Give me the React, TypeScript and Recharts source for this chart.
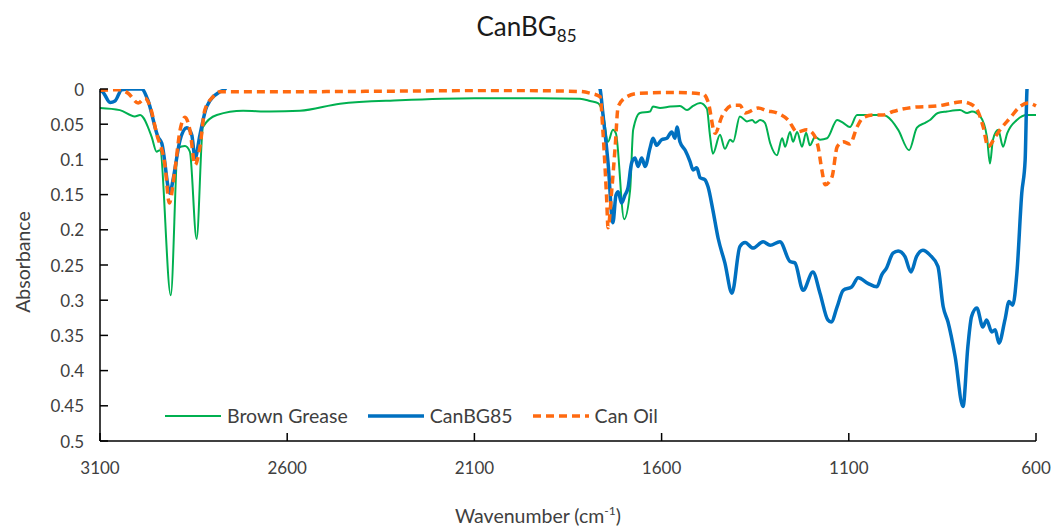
import { LineChart, Line, XAxis, YAxis, Legend } from 'recharts'

// FTIR absorbance spectra, [wavenumber cm-1, absorbance]
const brownGrease: [number, number][] = [
  [3100, 0.027], [3047, 0.03], [3007, 0.039], [2993, 0.037], [2962, 0.068], [2949, 0.089],
  [2940, 0.087], [2911, 0.293], [2892, 0.084], [2873, 0.081], [2860, 0.089], [2842, 0.213],
  [2825, 0.054], [2788, 0.037], [2718, 0.031], [2646, 0.032], [2566, 0.031], [2459, 0.021],
  [2299, 0.016], [2100, 0.013], [1925, 0.013], [1818, 0.014], [1791, 0.017], [1770, 0.02],
  [1757, 0.034], [1743, 0.075], [1730, 0.058], [1722, 0.063], [1700, 0.185], [1684, 0.143],
  [1676, 0.058], [1658, 0.034], [1631, 0.032], [1623, 0.025], [1604, 0.027], [1577, 0.025],
  [1551, 0.024], [1532, 0.03], [1516, 0.024], [1497, 0.02], [1479, 0.028], [1471, 0.065],
  [1463, 0.092], [1444, 0.065], [1431, 0.085], [1417, 0.072], [1409, 0.075], [1391, 0.039],
  [1372, 0.046], [1358, 0.044], [1350, 0.048], [1337, 0.044], [1324, 0.048], [1310, 0.077],
  [1292, 0.094], [1278, 0.07], [1270, 0.082], [1257, 0.061], [1249, 0.075], [1238, 0.061],
  [1225, 0.082], [1214, 0.062], [1204, 0.08], [1190, 0.068], [1177, 0.072], [1158, 0.07],
  [1131, 0.044], [1115, 0.048], [1097, 0.054], [1078, 0.037], [1009, 0.037], [998, 0.039],
  [968, 0.058], [939, 0.087], [918, 0.055], [896, 0.048], [883, 0.044], [862, 0.034],
  [838, 0.032], [803, 0.03], [784, 0.034], [771, 0.032], [749, 0.039], [731, 0.068],
  [723, 0.106], [715, 0.072], [701, 0.058], [688, 0.082], [677, 0.063], [651, 0.044],
  [624, 0.037], [600, 0.037],
]

const canBG85: [number, number][] = [
  [3100, 0.002], [3093, 0.004], [3073, 0.019], [3060, 0.017], [3042, 0.001], [3020, 0],
  [2989, 0], [2972, 0.016], [2945, 0.068], [2935, 0.077], [2913, 0.148], [2905, 0.129],
  [2886, 0.072], [2868, 0.055], [2855, 0.065], [2846, 0.098], [2833, 0.065], [2815, 0.025],
  [2780, 0.004], [2766, 0], [2750, -0.02], [1780, -0.02], [1764, 0.001], [1757, 0.034],
  [1743, 0.105], [1730, 0.19], [1722, 0.151], [1716, 0.146], [1707, 0.162], [1698, 0.151],
  [1690, 0.141], [1680, 0.105], [1671, 0.098], [1663, 0.11], [1653, 0.098], [1644, 0.11],
  [1631, 0.084], [1623, 0.07], [1613, 0.08], [1600, 0.072], [1586, 0.07], [1573, 0.061],
  [1564, 0.07], [1559, 0.054], [1551, 0.075], [1537, 0.087], [1524, 0.103], [1516, 0.115],
  [1506, 0.112], [1497, 0.126], [1484, 0.129], [1476, 0.139], [1463, 0.172], [1449, 0.212],
  [1431, 0.247], [1412, 0.29], [1391, 0.224], [1377, 0.218], [1356, 0.226], [1329, 0.217],
  [1310, 0.222], [1284, 0.217], [1257, 0.245], [1244, 0.247], [1222, 0.286], [1196, 0.26],
  [1177, 0.29], [1156, 0.328], [1147, 0.331], [1131, 0.309], [1115, 0.286], [1092, 0.281],
  [1075, 0.268], [1049, 0.276], [1025, 0.281], [1012, 0.264], [999, 0.254], [982, 0.233],
  [968, 0.23], [950, 0.238], [934, 0.26], [919, 0.238], [902, 0.229], [883, 0.236],
  [862, 0.252], [848, 0.309], [835, 0.331], [816, 0.38], [795, 0.451], [782, 0.366],
  [772, 0.323], [758, 0.311], [742, 0.338], [732, 0.328], [718, 0.345], [709, 0.342],
  [699, 0.361], [683, 0.328], [672, 0.302], [662, 0.307], [651, 0.261], [638, 0.148],
  [629, 0.101], [624, 0], [615, -0.03], [600, -0.04],
]

const canOil: [number, number][] = [
  [3100, 0.002], [3047, 0.001], [3025, 0.006], [2998, 0.02], [2980, 0.013], [2966, 0.025],
  [2949, 0.063], [2926, 0.11], [2915, 0.162], [2900, 0.115], [2886, 0.058], [2873, 0.04],
  [2860, 0.058], [2846, 0.108], [2833, 0.082], [2820, 0.03], [2798, 0.011], [2780, 0.004],
  [2753, 0.004], [2646, 0.004], [2299, 0.003], [2032, 0.002], [1818, 0.0035], [1791, 0.006],
  [1764, 0.011], [1757, 0.058], [1747, 0.153], [1743, 0.197], [1733, 0.143], [1724, 0.082],
  [1716, 0.025], [1693, 0.011], [1658, 0.006], [1569, 0.005], [1489, 0.007], [1476, 0.018],
  [1457, 0.063], [1439, 0.039], [1409, 0.023], [1391, 0.023], [1377, 0.034], [1342, 0.027],
  [1318, 0.031], [1292, 0.034], [1262, 0.044], [1238, 0.061], [1212, 0.058], [1196, 0.063],
  [1182, 0.082], [1172, 0.115], [1163, 0.136], [1145, 0.125], [1131, 0.082], [1115, 0.075],
  [1097, 0.078], [1078, 0.054], [1062, 0.041], [1035, 0.037], [1009, 0.037], [982, 0.032],
  [928, 0.026], [862, 0.024], [822, 0.02], [798, 0.018], [776, 0.021], [755, 0.032],
  [741, 0.054], [728, 0.082], [709, 0.068], [696, 0.058], [669, 0.041], [643, 0.025],
  [621, 0.02], [600, 0.024],
]

const xTicks = [3100, 2600, 2100, 1600, 1100, 600]
const yTicks = [0, 0.05, 0.1, 0.15, 0.2, 0.25, 0.3, 0.35, 0.4, 0.45, 0.5]

const toPoints = (rows: [number, number][]) => rows.map(([wn, abs]) => ({ wn, abs }))

const GREEN = '#00B050'
const BLUE = '#0070C0'
const ORANGE = '#FF6A10'
const FONT = 'Lato, "Open Sans", sans-serif'
const TEXT = '#404040'

const Y_MARGIN = 16
const X_MARGIN = 18

const YTick = ({ x, y, payload }: any) => (
  <g>
    <line x1={x + Y_MARGIN} x2={x + Y_MARGIN + 8} y1={y} y2={y} stroke="#000" strokeWidth={1.5} />
    <text x={x} y={y} textAnchor="end" dominantBaseline="central" fill={TEXT} fontSize={17} fontFamily={FONT}>
      {payload.value}
    </text>
  </g>
)

const XTick = ({ x, y, payload }: any) => (
  <g>
    <line x1={x} x2={x} y1={y - X_MARGIN} y2={y - X_MARGIN - 8} stroke="#000" strokeWidth={1.5} />
    <text x={x} y={y + 8} textAnchor="middle" dominantBaseline="central" fill={TEXT} fontSize={17} fontFamily={FONT}>
      {payload.value}
    </text>
  </g>
)

const legendItems = [
  { name: 'Brown Grease', color: GREEN, width: 2, dash: undefined },
  { name: 'CanBG85', color: BLUE, width: 3.5, dash: undefined },
  { name: 'Can Oil', color: ORANGE, width: 3.5, dash: '8 5' },
]

const LegendContent = () => (
  <div style={{ display: 'flex', alignItems: 'center', gap: 20, fontFamily: FONT, fontSize: 19.5, color: TEXT }}>
    {legendItems.map((item) => (
      <div key={item.name} style={{ display: 'flex', alignItems: 'center', gap: 6 }}>
        <svg width={56} height={10}>
          <line x1={0} x2={56} y1={5} y2={5} stroke={item.color} strokeWidth={item.width} strokeDasharray={item.dash} />
        </svg>
        <span>{item.name}</span>
      </div>
    ))}
  </div>
)

export default function App() {
  return (
    <div style={{ position: 'absolute', left: 0, top: 0, width: 1053, height: 529, background: '#fff', fontFamily: FONT }}>
      <div style={{ position: 'absolute', left: 0, top: 10, width: 1053, textAlign: 'center', fontSize: 26, color: '#1a1a1a' }}>
        CanBG<sub style={{ fontSize: 17, verticalAlign: -6 }}>85</sub>
      </div>
      <div
        style={{
          position: 'absolute', left: 22, top: 262, fontSize: 19.5, color: TEXT, whiteSpace: 'nowrap',
          transform: 'translate(-50%, -50%) rotate(-90deg)',
        }}
      >
        Absorbance
      </div>
      <div style={{ position: 'absolute', left: 538, top: 515, fontSize: 19.5, color: TEXT, whiteSpace: 'nowrap', transform: 'translate(-50%, -50%)' }}>
        Wavenumber (cm<sup style={{ fontSize: 12 }}>-1</sup>)
      </div>
      <LineChart width={1053} height={529} margin={{ top: 89, right: 17, bottom: 48, left: 0 }}>
        <XAxis
          dataKey="wn"
          type="number"
          domain={[600, 3100]}
          reversed
          ticks={xTicks}
          interval={0}
          tickSize={0}
          tickMargin={X_MARGIN}
          tick={<XTick />}
          height={40}
          axisLine={{ stroke: '#000', strokeWidth: 1.5 }}
        />
        <YAxis
          dataKey="abs"
          type="number"
          domain={[0, 0.5]}
          reversed
          allowDataOverflow
          ticks={yTicks}
          interval={0}
          tickSize={0}
          tickMargin={Y_MARGIN}
          tick={<YTick />}
          width={100}
          axisLine={{ stroke: '#000', strokeWidth: 1.5 }}
        />
        <Legend
          layout="horizontal"
          align="center"
          verticalAlign="middle"
          content={<LegendContent />}
          wrapperStyle={{ left: 165, top: 404, width: 'auto' }}
        />
        <Line data={toPoints(brownGrease)} dataKey="abs" name="Brown Grease" type="monotone" stroke={GREEN} strokeWidth={2} dot={false} isAnimationActive={false} />
        <Line data={toPoints(canBG85)} dataKey="abs" name="CanBG85" type="monotone" stroke={BLUE} strokeWidth={3.5} dot={false} isAnimationActive={false} />
        <Line data={toPoints(canOil)} dataKey="abs" name="Can Oil" type="monotone" stroke={ORANGE} strokeWidth={3.5} strokeDasharray="8 5" dot={false} isAnimationActive={false} />
      </LineChart>
    </div>
  )
}
